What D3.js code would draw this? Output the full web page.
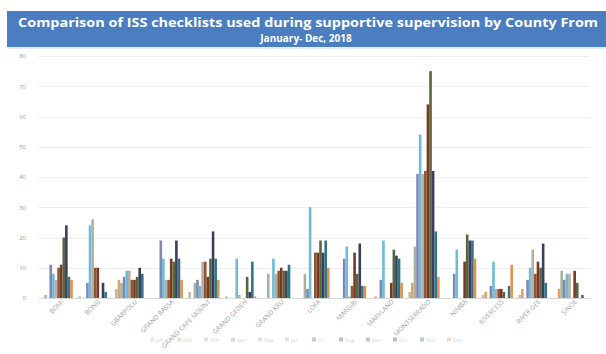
<!DOCTYPE html>
<html>
<head>
<meta charset="utf-8">
<script src="https://cdn.jsdelivr.net/npm/d3@7"></script>
<style>
  html, body { margin: 0; padding: 0; background: #fff; }
  svg { display: block; }
</style>
</head>
<body>
<svg id="chart" width="606" height="354"></svg>
<script>
// Counties (x categories)
const counties = ["BOMI", "BONG", "GBARPOLU", "GRAND BASSA", "GRAND CAPE MOUNT", "GRAND GEDEH",
  "GRAND KRU", "LOFA", "MARGIBI", "MARYLAND", "MONTSERRADO", "NIMBA", "RIVERCESS", "RIVER GEE", "SINOE"];

// Months (series)
const months = ["Jan", "Feb", "Mar", "Apr", "May", "Jun", "Jul", "Aug", "Sep", "Oct", "Nov", "Dec"];

// Checklists used per county, one array per month (same order as counties)
const jan = [0,   0.5, 3,  0,  2,  0.5, 0,  0,  0,   0,   2,  0,  1,  1,  0];
const feb = [1,   0,   6,  0,  0,  0,   0,  0,  0,   0.5, 5,  0,  2,  3,  3];
const mar = [0,   0,   5,  0,  5,  0,   8,  8,  0,   0,   17, 0,  0,  0,  9];
const apr = [11,  5,   7,  19, 6,  0,   0,  3,  13,  6,   41, 8,  4,  6,  6];
const may = [8,   24,  9,  13, 4,  13,  13, 30, 17,  19,  54, 16, 12, 10, 8];
const jun = [6,   26,  9,  6,  12, 1,   8,  0,  0.5, 0,   41, 0,  3,  16, 8];
const jul = [10,  10,  6,  6,  12, 0,   9,  15, 4,   0,   42, 0,  3,  8,  0];
const aug = [11,  10,  6,  13, 7,  0,   10, 15, 15,  5,   64, 12, 3,  12, 9];
const sep = [20,  0,   7,  12, 13, 7,   9,  19, 8,   16,  75, 21, 2,  10, 5];
const oct = [24,  5,   10, 19, 22, 2,   9,  15, 18,  14,  42, 19, 0,  18, 0];
const nov = [7,   2,   8,  13, 13, 12,  11, 19, 4,   13,  22, 19, 4,  5,  1];
const dec = [6,   0,   0,  6,  6,  0.5, 0,  10, 4,   5,   7,  13, 11, 0,  0];
const monthValues = [jan, feb, mar, apr, may, jun, jul, aug, sep, oct, nov, dec];

// Y axis ticks
const yTicks = [0, 10, 20, 30, 40, 50, 60, 70, 80];

const colors = ["#b8c0a6", "#e5a064", "#a3b49e", "#7e87b6", "#6dbbd9", "#b3b0a0",
  "#8e5636", "#7a3820", "#55673f", "#3d3d5e", "#2f7589", "#e2924f"];

const svg = d3.select("#chart");
const W = 606, H = 354;
const font = "'Open Sans', sans-serif";

// Title banner
svg.append("rect").attr("x", 7).attr("y", 11).attr("width", W - 7).attr("height", 36)
  .attr("fill", "#4a7ec0");
svg.append("line").attr("x1", 7).attr("x2", W).attr("y1", 48).attr("y2", 48)
  .attr("stroke", "#c9d8ee").attr("stroke-width", 1);
const titleLines = ["Comparison of ISS checklists used during supportive supervision by County  From",
  "January- Dec, 2018"];
svg.append("text").attr("x", 308).attr("y", 27).attr("text-anchor", "middle")
  .attr("font-family", font).attr("font-weight", "bold")
  .attr("font-size", 11.5).attr("fill", "#fff").attr("textLength", 580).attr("lengthAdjust", "spacingAndGlyphs")
  .text(titleLines[0]);
svg.append("text").attr("x", 306).attr("y", 42).attr("text-anchor", "middle")
  .attr("font-family", font).attr("font-weight", "bold")
  .attr("font-size", 10).attr("fill", "#fff")
  .text(titleLines[1]);

// Plot area
const m = { left: 38, right: 16, top: 56, bottom: 56 };
const x0 = d3.scaleBand().domain(counties).range([m.left, W - m.right]).paddingInner(0.15).paddingOuter(0.1);
const x1 = d3.scaleBand().domain(months).range([0, x0.bandwidth()]);
const y = d3.scaleLinear().domain([0, 80]).range([H - m.bottom, m.top]);

// Gridlines
svg.append("g").selectAll("line").data(yTicks.slice(1)).join("line")
  .attr("x1", m.left).attr("x2", W - m.right)
  .attr("y1", d => Math.round(y(d)) + 0.5).attr("y2", d => Math.round(y(d)) + 0.5)
  .attr("stroke", "#eeeeee").attr("stroke-width", 1);

// Y axis labels
const yAxis = d3.axisLeft(y).tickValues(yTicks).tickSize(0).tickPadding(12);
const yg = svg.append("g").attr("transform", `translate(${m.left},0)`).call(yAxis);
yg.select(".domain").remove();
yg.selectAll("text").attr("font-family", font).attr("font-size", 6).attr("fill", "#9a9a9a");

// Bars
const groups = svg.append("g").selectAll("g").data(counties).join("g")
  .attr("transform", d => `translate(${x0(d)},0)`);
groups.selectAll("rect")
  .data((c, ci) => months.map((mo, mi) => ({ mo, mi, v: monthValues[mi][ci] })))
  .join("rect")
  .attr("x", d => x1(d.mo))
  .attr("width", x1.bandwidth())
  .attr("y", d => y(d.v))
  .attr("height", d => y(0) - y(d.v))
  .attr("fill", d => colors[d.mi]);

// X axis
const xAxis = d3.axisBottom(x0).tickSize(0).tickPadding(6);
const xg = svg.append("g").attr("transform", `translate(0,${y(0)})`).call(xAxis);
xg.select(".domain").attr("stroke", "#d9d9d9");
xg.selectAll("text")
  .attr("font-family", font).attr("font-size", 6.5).attr("fill", "#a0a0a0")
  .attr("text-anchor", "end")
  .attr("transform", "rotate(-45)")
  .attr("dx", "0.3em").attr("dy", "0.3em");

// Legend
const legend = svg.append("g").attr("transform", "translate(150,341)");
const step = 27;
const items = legend.selectAll("g").data(months).join("g")
  .attr("transform", (d, i) => `translate(${i * step},0)`);
items.append("rect").attr("width", 4).attr("height", 4).attr("y", -3.5)
  .attr("fill", (d, i) => colors[i]).attr("opacity", 0.35);
items.append("text").attr("x", 6).attr("y", 0.5).attr("font-family", font)
  .attr("font-size", 5).attr("fill", "#d6d6d6").text(d => d);
</script>
</body>
</html>
